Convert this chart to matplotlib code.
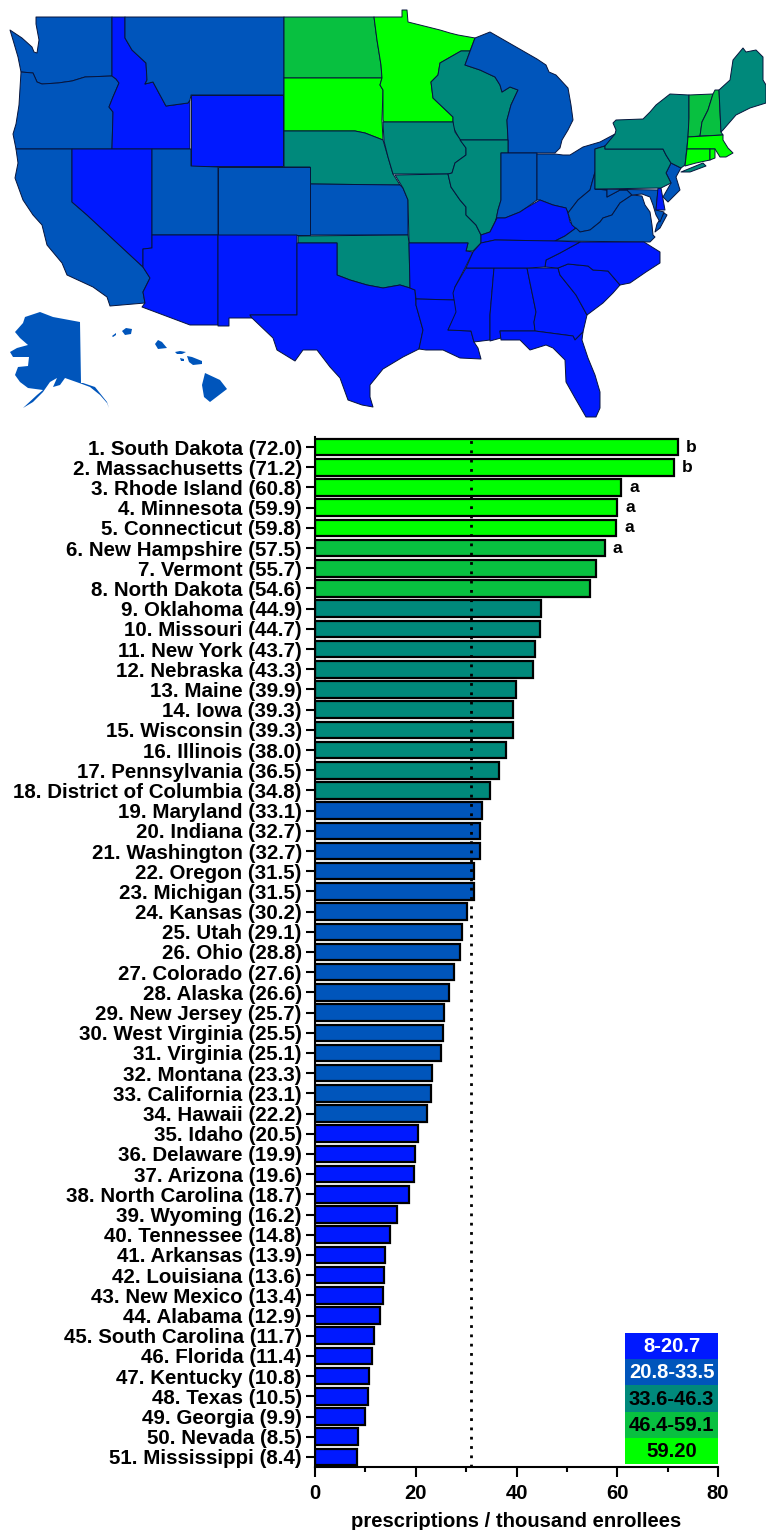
import matplotlib
matplotlib.use("Agg")
import matplotlib.pyplot as plt
from matplotlib.patches import Polygon, Rectangle
import numpy as np

plt.rcParams['font.family'] = ['Liberation Sans', 'DejaVu Sans']
plt.rcParams['font.weight'] = 'bold'

states = ["South Dakota", "Massachusetts", "Rhode Island", "Minnesota", "Connecticut", "New Hampshire",
          "Vermont", "North Dakota", "Oklahoma", "Missouri", "New York", "Nebraska", "Maine", "Iowa",
          "Wisconsin", "Illinois", "Pennsylvania", "District of Columbia", "Maryland", "Indiana",
          "Washington", "Oregon", "Michigan", "Kansas", "Utah", "Ohio", "Colorado", "Alaska", "New Jersey",
          "West Virginia", "Virginia", "Montana", "California", "Hawaii", "Idaho", "Delaware", "Arizona",
          "North Carolina", "Wyoming", "Tennessee", "Arkansas", "Louisiana", "New Mexico", "Alabama",
          "South Carolina", "Florida", "Kentucky", "Texas", "Georgia", "Nevada", "Mississippi"]
rates = [72.0, 71.2, 60.8, 59.9, 59.8, 57.5, 55.7, 54.6, 44.9, 44.7, 43.7, 43.3, 39.9, 39.3, 39.3, 38.0, 36.5,
         34.8, 33.1, 32.7, 32.7, 31.5, 31.5, 30.2, 29.1, 28.8, 27.6, 26.6, 25.7, 25.5, 25.1, 23.3, 23.1, 22.2,
         20.5, 19.9, 19.6, 18.7, 16.2, 14.8, 13.9, 13.6, 13.4, 12.9, 11.7, 11.4, 10.8, 10.5, 9.9, 8.5, 8.4]
sig_letters = ["b", "b", "a", "a", "a", "a"]
national_rate = 30.9

bin_edges = [20.75, 33.55, 46.35, 59.15]
bin_colors = ["#0019FF", "#0055BB", "#00897B", "#08C040", "#00FF00"]
legend_labels = ["8-20.7", "20.8-33.5", "33.6-46.3", "46.4-59.1", "59.20"]
legend_text_colors = ["white", "white", "black", "black", "black"]

# outlines, in image pixels
wa = [(36,17),(112,17),(112,76),(85,77),(72,81),(58,83),(42,84),(37,82),(33,73),(21,72),(18,57),(13,40),(10,30),(22,38),(32,47),(34,52),(37,53),(39,40),(36,24)]
or_ = [(21,72),(33,73),(37,82),(42,84),(58,83),(72,81),(85,77),(112,76),(116,79),(119,83),(113,97),(109,107),(113,112),(112,149),(16,149),(13,134),(16,124),(19,105)]
id_ = [(112,17),(125,17),(125,38),(132,50),(146,63),(147,80),(145,84),(153,82),(160,95),(166,106),(188,103),(190,100),(190,149),(112,149),(113,112),(109,107),(113,97),(119,83),(116,79),(112,76)]
mt = [(125,17),(284,17),(284,95),(191,95),(190,100),(188,103),(166,106),(160,95),(153,82),(145,84),(147,80),(146,63),(132,50),(125,38)]
wy = [(191,95),(283,95),(283,166),(191,166)]
nd = [(284,17),(374,17),(377,40),(381,65),(382,78),(284,78)]
sd = [(284,78),(382,78),(380,85),(383,90),(382,120),(383,140),(365,133),(355,131),(284,131)]
ne = [(284,131),(355,131),(365,133),(383,140),(388,157),(393,174),(400,185),(310,184),(310,167),(284,167)]
mn = [(374,17),(402,17),(402,10),(407,10),(408,22),(428,27),(440,30),(450,33),(458,35),(475,38),(470,51),(461,51),(440,63),(438,75),(431,82),(433,98),(453,117),(453,122),(384,122),(383,120),(383,90),(380,85),(382,78),(381,65),(377,40)]
wi = [(461,51),(470,51),(465,65),(480,70),(495,77),(500,85),(502,92),(510,87),(518,90),(511,105),(507,120),(508,140),(460,140),(453,127),(453,117),(433,98),(431,82),(438,75),(440,63)]
mi = [(475,38),(490,32),(537,59),(546,65),(549,72),(556,75),(568,88),(571,105),(573,120),(568,130),(562,140),(560,148),(555,153),(501,153),(508,153),(508,140),(507,120),(511,105),(518,90),(510,87),(502,92),(500,85),(495,77),(480,70),(465,65)]
ia = [(383,122),(453,122),(455,132),(466,148),(466,155),(455,163),(452,173),(448,174),(393,174),(388,157),(384,141)]
ks = [(310,184),(400,185),(403,188),(408,200),(408,235),(310,235)]
mo = [(395,175),(448,174),(451,187),(460,200),(466,207),(466,215),(476,225),(481,235),(481,243),(473,251),(466,251),(468,243),(409,243),(408,200),(403,188)]
il = [(460,140),(508,140),(508,153),(501,153),(501,200),(498,210),(496,220),(490,232),(481,235),(476,225),(466,215),(466,207),(460,200),(451,187),(448,174),(452,173),(455,163),(466,155),(466,148)]
in_ = [(501,153),(537,153),(537,200),(526,208),(520,212),(505,218),(497,218),(496,220),(498,210),(501,200)]
oh = [(537,154),(555,154),(563,155),(570,155),(583,147),(600,142),(615,134),(617,137),(605,146),(595,149),(595,172),(590,190),(578,200),(568,213),(566,208),(553,205),(540,200),(537,200)]
ky = [(481,243),(481,235),(490,232),(496,220),(497,218),(505,218),(520,212),(526,208),(540,200),(553,205),(566,208),(568,213),(570,222),(576,228),(565,236),(555,241),(495,240)]
wv = [(568,213),(578,200),(590,190),(595,172),(595,189),(607,190),(607,197),(620,190),(627,190),(632,195),(620,203),(612,215),(603,218),(600,222),(590,230),(580,232),(572,225)]
va = [(555,241),(565,236),(576,228),(580,232),(590,230),(600,222),(603,218),(612,215),(620,203),(632,195),(642,196),(645,205),(650,212),(652,225),(653,235),(655,237),(650,242)]
va_shore = [(664,213),(667,215),(660,228),(655,232),(657,224)]
md = [(595,189),(658,190),(656,210),(664,212),(660,222),(656,215),(653,205),(650,197),(642,194),(632,195),(627,190),(620,190),(607,197),(607,190)]
de = [(658,188),(661,188),(665,210),(656,210)]
nj = [(671,163),(681,168),(676,177),(680,190),(673,197),(668,202),(663,197),(671,183),(666,173)]
pa = [(595,149),(605,146),(605,149),(663,149),(666,155),(671,163),(666,173),(671,183),(661,188),(595,189)]
ny = [(613,123),(616,120),(643,119),(650,112),(656,105),(670,94),(689,95),(689,118),(688,137),(685,165),(681,168),(671,163),(666,155),(663,149),(605,149),(605,146),(615,134),(616,130)]
ny_island = [(681,172),(703,163),(706,166),(690,172)]
vt = [(689,95),(713,94),(708,110),(702,122),(700,136),(688,137),(689,118)]
nh = [(715,90),(719,90),(721,132),(723,135),(700,136),(702,122),(708,110),(713,94)]
me = [(719,90),(730,80),(733,60),(743,48),(746,52),(756,50),(763,57),(763,80),(766,85),(766,103),(750,108),(736,115),(723,130),(721,132)]
ma = [(688,137),(723,135),(723,140),(728,148),(733,153),(726,157),(720,157),(715,149),(687,149)]
ct = [(687,149),(710,149),(710,160),(696,163),(685,166)]
ri = [(710,149),(715,149),(715,158),(710,160)]
ca = [(16,149),(72,149),(72,202),(87,215),(143,267),(150,278),(143,292),(145,303),(110,306),(107,297),(93,287),(67,275),(62,263),(47,245),(42,225),(33,215),(23,200),(15,178),(18,163)]
nv = [(72,149),(152,149),(152,248),(143,249),(143,267),(87,215),(72,202)]
ut = [(152,149),(191,149),(191,166),(218,167),(218,235),(152,235)]
co = [(218,167),(310,167),(310,235),(218,235)]
az = [(152,235),(218,235),(218,325),(190,325),(142,307),(145,303),(143,292),(150,278),(143,267),(143,249),(152,248)]
nm = [(218,235),(297,235),(297,315),(250,315),(252,318),(229,318),(229,326),(218,326)]
ok = [(298,236),(408,235),(409,243),(410,288),(400,285),(383,288),(367,285),(350,280),(337,275),(337,243),(298,243)]
tx = [(297,243),(337,243),(337,275),(350,280),(367,285),(383,288),(400,285),(410,288),(415,290),(416,305),(423,330),(419,349),(403,357),(383,369),(370,385),(370,397),(373,407),(362,405),(348,400),(340,378),(330,367),(317,350),(303,350),(295,361),(277,350),(273,338),(252,318),(250,315),(297,315)]
ar = [(409,243),(468,243),(466,251),(473,252),(465,268),(455,287),(455,300),(416,299),(415,290),(410,288)]
la = [(416,299),(455,300),(457,312),(448,330),(471,331),(474,342),(478,348),(481,359),(460,358),(443,350),(426,350),(419,349),(423,330),(416,305)]
ms = [(466,268),(494,268),(490,315),(490,340),(474,342),(471,331),(448,330),(456,312),(453,293),(455,287)]
al = [(494,268),(527,268),(536,312),(534,322),(535,331),(500,331),(501,338),(490,341),(490,315)]
ga = [(527,268),(558,268),(560,275),(576,295),(587,315),(583,332),(575,340),(573,336),(535,331),(534,322),(536,312)]
sc = [(558,268),(568,264),(588,266),(593,270),(608,271),(620,285),(613,293),(603,303),(587,315),(576,295),(560,275)]
nc = [(580,242),(644,242),(660,252),(660,263),(646,272),(630,283),(620,285),(608,271),(593,270),(588,266),(568,264),(558,268),(545,267),(546,260),(560,253)]
tn = [(495,240),(555,241),(580,242),(560,253),(546,260),(545,267),(527,268),(466,268),(473,252),(481,243)]
fl = [(500,331),(535,331),(573,336),(575,340),(583,332),(582,340),(588,358),(595,375),(600,392),(600,408),(596,417),(586,417),(575,398),(566,382),(565,360),(553,348),(546,345),(530,350),(520,340),(501,340)]
ak = [(40,312),(53,317),(80,322),(81,383),(83,383),(95,387),(107,402),(109,408),(107,403),(100,395),(90,387),(82,384),(65,378),(60,385),(53,387),(57,378),(50,382),(43,392),(33,402),(23,408),(37,395),(43,390),(28,388),(20,382),(15,375),(18,367),(28,366),(29,357),(13,357),(10,352),(17,348),(28,345),(20,338),(15,332),(23,323),(25,317)]
hi_big = [(205,373),(220,380),(227,389),(210,402),(204,397),(202,385)]
hi_maui = [(187,356),(192,357),(202,361),(202,364),(193,365),(189,362)]
hi_oahu = [(158,340),(162,342),(167,348),(158,349),(155,344)]
hi_kauai = [(122,331),(126,328),(132,329),(131,334),(125,335)]
hi_molokai = [(175,352),(180,351),(186,352),(182,354),(177,354)]
hi_lanai = [(180,358),(184,359),(184,361),(181,361)]
hi_niihau = [(112,336),(116,333),(116,335),(113,337)]

map_shapes = [("Washington", wa), ("Oregon", or_), ("Idaho", id_), ("Montana", mt), ("Wyoming", wy),
              ("North Dakota", nd), ("South Dakota", sd), ("Nebraska", ne), ("Minnesota", mn), ("Wisconsin", wi),
              ("Michigan", mi), ("Iowa", ia), ("Kansas", ks), ("Missouri", mo), ("Illinois", il), ("Indiana", in_),
              ("Ohio", oh), ("Kentucky", ky), ("West Virginia", wv), ("Virginia", va), ("Virginia", va_shore),
              ("Maryland", md), ("Delaware", de), ("New Jersey", nj), ("Pennsylvania", pa), ("New York", ny),
              ("New York", ny_island), ("Vermont", vt), ("New Hampshire", nh), ("Maine", me),
              ("Massachusetts", ma), ("Connecticut", ct), ("Rhode Island", ri), ("California", ca), ("Nevada", nv),
              ("Utah", ut), ("Colorado", co), ("Arizona", az), ("New Mexico", nm), ("Oklahoma", ok), ("Texas", tx),
              ("Arkansas", ar), ("Louisiana", la), ("Mississippi", ms), ("Alabama", al), ("Georgia", ga),
              ("South Carolina", sc), ("North Carolina", nc), ("Tennessee", tn), ("Florida", fl)]
island_shapes = [("Alaska", ak), ("Hawaii", hi_big), ("Hawaii", hi_maui), ("Hawaii", hi_oahu), ("Hawaii", hi_kauai),
                 ("Hawaii", hi_molokai), ("Hawaii", hi_lanai), ("Hawaii", hi_niihau)]

rate_of = dict(zip(states, rates))


def bin_color(value):
    return bin_colors[np.searchsorted(bin_edges, value)]


fig = plt.figure(figsize=(7.66, 15.3), dpi=100)

# map goes on a pixel-sized axes over the whole figure
map_ax = fig.add_axes([0, 0, 1, 1])
map_ax.set_xlim(0, 766)
map_ax.set_ylim(1530, 0)
map_ax.axis("off")
for name, shape in map_shapes:
    map_ax.add_patch(Polygon(shape, closed=True, facecolor=bin_color(rate_of[name]),
                             edgecolor="#06143c", linewidth=0.7, joinstyle="round"))
for name, shape in island_shapes:
    map_ax.add_patch(Polygon(shape, closed=True, facecolor=bin_color(rate_of[name]), edgecolor="none"))

# bar chart
ax = fig.add_axes([315 / 766, 1 - 1467 / 1530, (718 - 315) / 766, (1467 - 437) / 1530])
ax.patch.set_alpha(0)
y = np.arange(len(states))
ax.barh(y, rates, height=0.82, color=[bin_color(r) for r in rates], edgecolor="black", linewidth=1.6, zorder=2)
ax.axvline(national_rate, color="black", linestyle=(0, (1, 2.35)), linewidth=2, zorder=3)
ax.set_xlim(0, 80)
ax.set_ylim(50.5, -0.5)
ax.set_yticks(y)
ax.set_yticklabels([f"{i + 1}. {s} ({r:.1f})" for i, (s, r) in enumerate(zip(states, rates))], fontsize=14.8)
ax.set_xticks([0, 20, 40, 60, 80])
ax.set_xticks([10, 30, 50, 70], minor=True)
ax.tick_params(axis="y", length=6.5, width=1.5, pad=3)
ax.tick_params(axis="x", which="major", length=7, width=1.5, labelsize=14.6, pad=5)
ax.tick_params(axis="x", which="minor", length=3.5, width=1.5)
ax.set_xlabel("prescriptions / thousand enrollees", fontsize=14.6, fontweight="bold", labelpad=7)
for side in ["top", "right"]:
    ax.spines[side].set_visible(False)
for side in ["left", "bottom"]:
    ax.spines[side].set_linewidth(1.5)

for i, letter in enumerate(sig_letters):
    ax.annotate(letter, (rates[i], i), xytext=(6, 0), textcoords="offset points", va="center", ha="left", fontsize=12.5)

# legend block in the lower right corner
leg = fig.add_axes([625 / 766, 1 - 1464 / 1530, (718 - 625) / 766, (1464 - 1333) / 1530])
leg.set_xlim(0, 1)
leg.set_ylim(5, 0)
leg.axis("off")
for i, (label, col, tcol) in enumerate(zip(legend_labels, bin_colors, legend_text_colors)):
    leg.add_patch(Rectangle((0, i), 1, 1, facecolor=col, edgecolor="none"))
    leg.text(0.5, i + 0.52, label, color=tcol, ha="center", va="center", fontsize=14.6)

fig.savefig("out.png", dpi=100)
